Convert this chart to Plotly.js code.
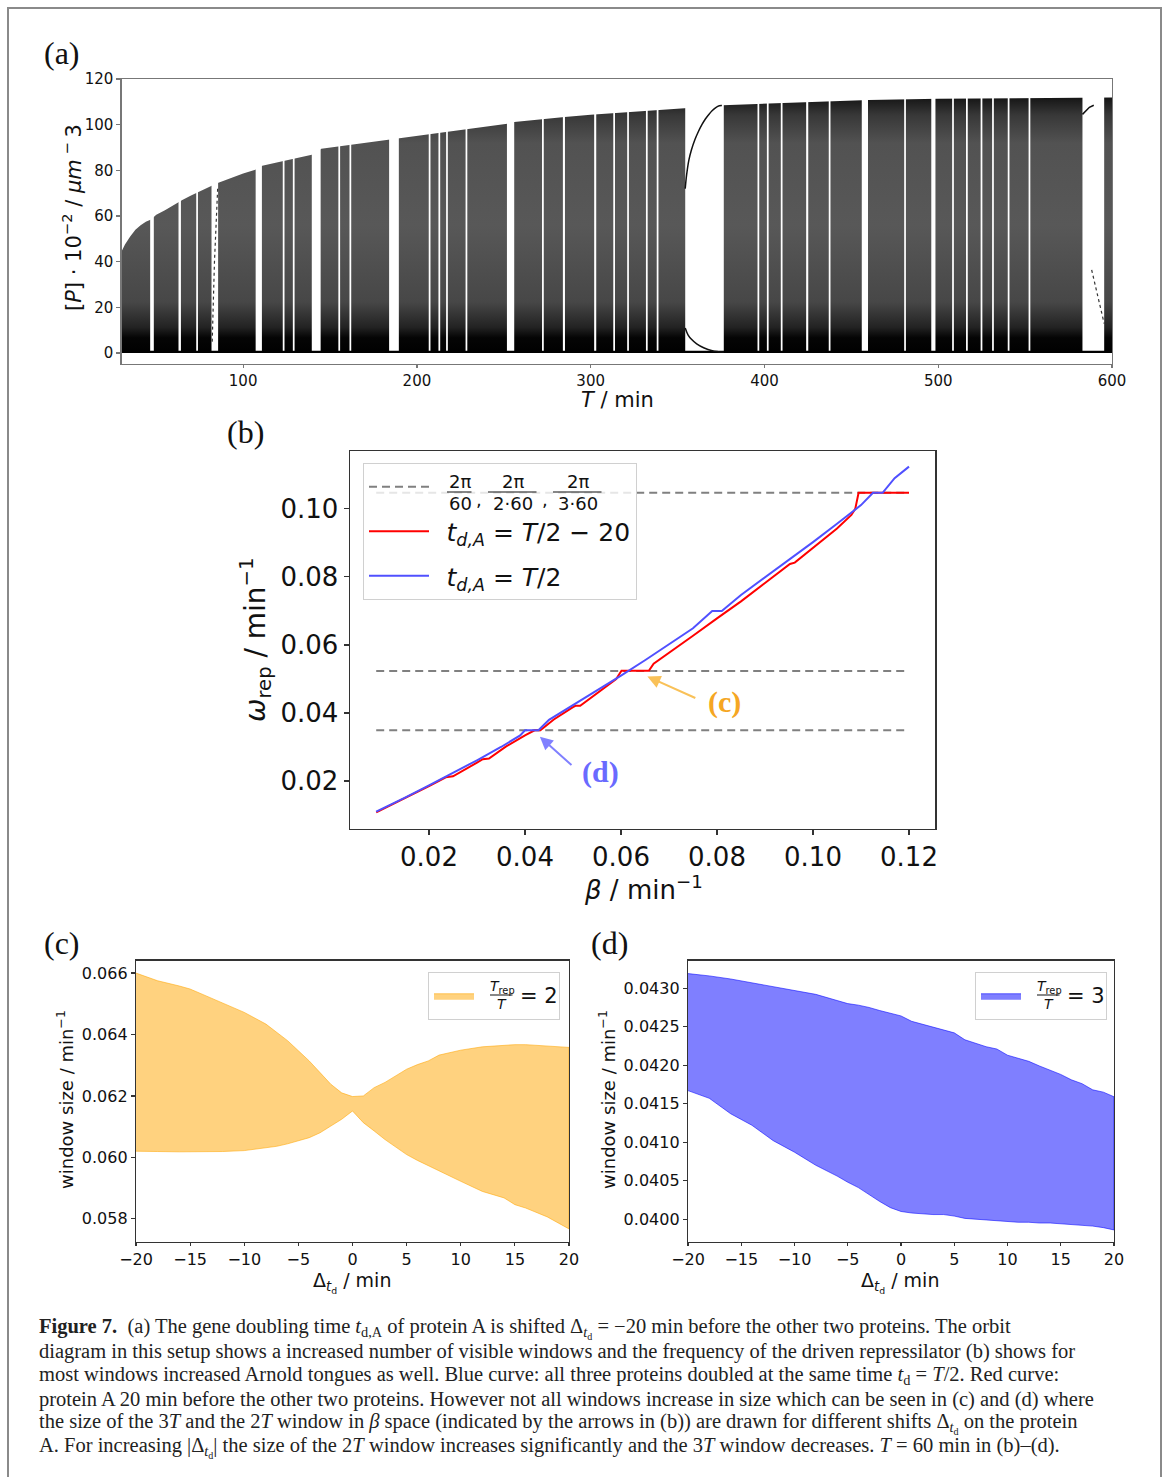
<!DOCTYPE html>
<html><head><meta charset="utf-8">
<script src="https://cdn.plot.ly/plotly-3.0.1.min.js"></script>
<style>html,body{margin:0;padding:0;background:#fff}#chart{width:1167px;height:1477px}</style>
</head><body><div id="chart"></div>
<script>
// ---------- (a) orbit diagram ----------
const orbitT   = [30, 32, 35, 38, 41, 44, 47, 50, 55, 60, 65, 70, 75, 80, 85, 90, 95, 100, 107, 111, 120, 130, 139.5, 145, 155, 165, 175, 184, 190, 200, 215, 230, 245, 252, 256, 270, 285, 300, 320, 340, 354, 376, 400, 430, 456, 460, 500, 540, 583, 595.5, 600];
const orbitTop = [44.5, 47.5, 51, 54, 56, 57.5, 58.5, 60.6, 62.5, 64.8, 67, 69, 70.8, 72.5, 74.3, 75.8, 77.3, 78.6, 80.3, 82, 83.6, 85.2, 86.8, 89.5, 90.5, 91.5, 92.6, 93.5, 94.3, 95.3, 96.8, 98.2, 99.6, 100.4, 101.2, 102.3, 103.4, 104.3, 105.3, 106.3, 107.2, 108.5, 109.1, 109.8, 110.4, 110.8, 111.3, 111.6, 111.9, 111.9, 111.9];
const windowStart = [46.5, 62.8, 73.0, 81.8, 107.2, 122.8, 128.6, 139.5, 154.8, 161.2, 184.0, 206.8, 212.4, 216.8, 228.0, 251.8, 272.0, 284.0, 302.0, 313.0, 321.0, 331.8, 338.0, 354.4, 396.0, 401.4, 409.4, 424.0, 437.0, 456.0, 480.4, 496.0, 508.0, 516.0, 524.4, 531.0, 540.0, 552.0, 583.0];
const windowEnd   = [48.6, 64.2, 74.0, 85.6, 110.8, 123.8, 129.6, 144.6, 155.8, 162.2, 189.6, 207.8, 213.4, 217.8, 229.0, 256.0, 273.0, 285.2, 303.2, 314.0, 322.0, 332.8, 339.0, 376.6, 397.0, 402.4, 410.4, 425.2, 438.0, 459.6, 481.4, 498.4, 509.0, 517.0, 525.4, 532.0, 541.0, 553.0, 595.5];
const branchUpT  = [354.4, 355.2, 356.5, 358, 360, 362, 364, 366, 368, 370, 372, 374, 375.5];
const branchUpP  = [72, 78, 84.5, 89, 93.5, 97, 100, 102.5, 104.5, 106.2, 107.5, 108.3, 108.4];
const branchLowT = [354.4, 356, 358, 361, 365, 370, 376.6];
const branchLowP = [11, 8, 6, 4, 2.3, 1.0, 0.3];
const branchEndTopT = [583, 585, 587, 589.5];
const branchEndTopP = [104.5, 106.3, 107.6, 108.5];
const branchEndDotT = [588.3, 592, 595.5];
const branchEndDotP = [36.4, 24.5, 12.9];
const branch84T = [82.2, 83.5, 85.4];
const branch84P = [5, 40, 73];
const orbitTicks = [100, 200, 300, 400, 500, 600];

// ---------- (b) frequency of the driven repressilator ----------
const betaBlue  = [0.009, 0.012, 0.015, 0.020, 0.025, 0.030, 0.035, 0.039, 0.0400, 0.0428, 0.045, 0.050, 0.055, 0.060, 0.065, 0.070, 0.075, 0.079, 0.081, 0.085, 0.090, 0.095, 0.100, 0.105, 0.110, 0.1125, 0.1145, 0.117, 0.120];
const omegaBlue = [0.0110, 0.0130, 0.0151, 0.0187, 0.0223, 0.0261, 0.0300, 0.0334, 0.0349, 0.0349, 0.0380, 0.0423, 0.0466, 0.0510, 0.0555, 0.0601, 0.0649, 0.0700, 0.0700, 0.0747, 0.0798, 0.0850, 0.0902, 0.0956, 0.1011, 0.1047, 0.1047, 0.1090, 0.1124];
const betaRed  = [0.009, 0.015, 0.020, 0.0235, 0.0250, 0.030, 0.0312, 0.0325, 0.036, 0.040, 0.0420, 0.0432, 0.046, 0.0500, 0.0505, 0.0515, 0.055, 0.0590, 0.0601, 0.0658, 0.0668, 0.070, 0.075, 0.080, 0.085, 0.090, 0.0945, 0.0952, 0.0962, 0.100, 0.105, 0.108, 0.1088, 0.1095, 0.120];
const omegaRed = [0.0108, 0.0149, 0.0185, 0.0211, 0.0214, 0.0254, 0.0264, 0.0266, 0.0301, 0.0334, 0.0349, 0.0349, 0.0381, 0.0417, 0.0421, 0.0421, 0.0459, 0.0500, 0.0524, 0.0524, 0.0545, 0.0578, 0.0627, 0.0678, 0.0728, 0.0782, 0.0832, 0.0838, 0.0842, 0.0885, 0.0942, 0.0982, 0.1000, 0.1047, 0.1047];
const lockedOmega = [0.10472, 0.05236, 0.03491];   // 2π/60, 2π/(2·60), 2π/(3·60)
const lockedBetaSpan = [0.009, 0.120];
const lockedNumer = ['2π', '2π', '2π'];
const lockedDenom = ['60', '2·60', '3·60'];

// ---------- (c) 2T window ----------
const shiftC = [-20, -18, -16, -15, -14, -12, -10, -8, -7, -6, -5, -4, -3, -2, -1, 0, 1, 2, 3, 4, 5, 6, 7, 8, 10, 12, 14, 15, 16, 18, 20];
const upperC = [0.06600, 0.06575, 0.06558, 0.06548, 0.06533, 0.06503, 0.06472, 0.06434, 0.06408, 0.06380, 0.06347, 0.06314, 0.06276, 0.06238, 0.06210, 0.06198, 0.06200, 0.06227, 0.06244, 0.06266, 0.06287, 0.06302, 0.06314, 0.06333, 0.06349, 0.06360, 0.06366, 0.06367, 0.06367, 0.06362, 0.06358];
const lowerC = [0.06020, 0.06019, 0.06018, 0.06018, 0.06018, 0.06019, 0.06022, 0.06031, 0.06036, 0.06044, 0.06053, 0.06064, 0.06080, 0.06102, 0.06124, 0.06151, 0.06113, 0.06086, 0.06058, 0.06033, 0.06009, 0.05990, 0.05971, 0.05955, 0.05922, 0.05889, 0.05868, 0.05846, 0.05835, 0.05806, 0.05767];
const ratioC = 2;

// ---------- (d) 3T window ----------
const shiftD = [-20, -18, -16, -14, -12, -10, -8, -6, -5, -4, -3, -2, -1, 0, 1, 2, 3, 4, 5, 6, 7, 8, 9, 10, 11, 12, 13, 14, 15, 16, 17, 18, 19, 20];
const upperD = [0.04319, 0.04316, 0.04312, 0.04307, 0.04302, 0.04297, 0.04292, 0.04284, 0.04280, 0.04278, 0.04275, 0.04271, 0.04267, 0.04264, 0.04257, 0.04253, 0.04249, 0.04245, 0.04242, 0.04233, 0.04228, 0.04224, 0.04221, 0.04213, 0.04209, 0.04205, 0.04199, 0.04194, 0.04188, 0.04181, 0.04176, 0.04168, 0.04165, 0.04159];
const lowerD = [0.04167, 0.04157, 0.04137, 0.04122, 0.04102, 0.04087, 0.04070, 0.04056, 0.04048, 0.04041, 0.04032, 0.04023, 0.04015, 0.04010, 0.04008, 0.04007, 0.04006, 0.04006, 0.04004, 0.04001, 0.04000, 0.03999, 0.03998, 0.03997, 0.03996, 0.03996, 0.03995, 0.03995, 0.03994, 0.03993, 0.03992, 0.03991, 0.03989, 0.03986];
const ratioD = 3;

const captionLines = [
  "<b>Figure 7.</b>  (a) The gene doubling time <i>t</i><sub>d,A</sub> of protein A is shifted Δ<sub><i>t</i><sub>d</sub></sub> = −20 min before the other two proteins. The orbit",
  "diagram in this setup shows a increased number of visible windows and the frequency of the driven repressilator (b) shows for",
  "most windows increased Arnold tongues as well. Blue curve: all three proteins doubled at the same time <i>t</i><sub>d</sub> = <i>T</i>/2. Red curve:",
  "protein A 20 min before the other two proteins. However not all windows increase in size which can be seen in (c) and (d) where",
  "the size of the 3<i>T</i> and the 2<i>T</i> window in <i>β</i> space (indicated by the arrows in (b)) are drawn for different shifts Δ<sub><i>t</i><sub>d</sub></sub> on the protein",
  "A. For increasing |Δ<sub><i>t</i><sub>d</sub></sub>| the size of the 2<i>T</i> window increases significantly and the 3<i>T</i> window decreases. <i>T</i> = 60 min in (b)–(d)."
];

// ---------- build ----------
const W = 1167, H = 1477;
const px = x => x / W, py = y => 1 - y / H;
const SANS = "DejaVu Sans, sans-serif";
const SERIF = "Liberation Serif, serif";

const winX = [], winY = [];
windowStart.forEach((a, i) => {
  const b = windowEnd[i];
  winX.push(a, a, b, b, a, null);
  winY.push(1.0, 114, 114, 1.0, 1.0, null);
});
const lockX = [], lockY = [];
lockedOmega.forEach(w => { lockX.push(lockedBetaSpan[0], lockedBetaSpan[1], null); lockY.push(w, w, null); });
const EM = '\u2003', EN = '\u2002';

const traces = [
  {x: orbitT, y: orbitTop, xaxis: 'x', yaxis: 'y', mode: 'lines', fill: 'tozeroy', line: {width: 0, color: '#222'},
   fillgradient: {type: 'vertical', start: 0, stop: 112,
     colorscale: [[0, '#000'], [0.06, '#050505'], [0.1, '#222'], [0.2, '#474747'], [0.5, '#585858'], [0.82, '#525252'], [0.93, '#383838'], [1, '#151515']]},
   showlegend: false, hoverinfo: 'skip'},
  {x: winX, y: winY, xaxis: 'x', yaxis: 'y', mode: 'lines', fill: 'toself', fillcolor: '#fff', line: {width: 0, color: '#fff'}, showlegend: false, hoverinfo: 'skip'},
  {x: branchUpT, y: branchUpP, xaxis: 'x', yaxis: 'y', mode: 'lines', line: {color: '#111', width: 1.5, shape: 'spline'}, showlegend: false},
  {x: branchLowT, y: branchLowP, xaxis: 'x', yaxis: 'y', mode: 'lines', line: {color: '#111', width: 1.5, shape: 'spline'}, showlegend: false},
  {x: branchEndTopT, y: branchEndTopP, xaxis: 'x', yaxis: 'y', mode: 'lines', line: {color: '#111', width: 1.5}, showlegend: false},
  {x: branchEndDotT, y: branchEndDotP, xaxis: 'x', yaxis: 'y', mode: 'lines', line: {color: '#333', width: 1.2, dash: 'dot'}, showlegend: false},
  {x: branch84T, y: branch84P, xaxis: 'x', yaxis: 'y', mode: 'lines', line: {color: '#333', width: 1.2, dash: 'dot'}, showlegend: false},

  {x: lockX, y: lockY, xaxis: 'x2', yaxis: 'y2', mode: 'lines', line: {color: '#808080', width: 2, dash: '8px,5px'},
   name: EM.repeat(7), legend: 'legend', legendgroup: 'g1'},
  {x: betaRed, y: omegaRed, xaxis: 'x2', yaxis: 'y2', mode: 'lines', line: {color: '#ff0000', width: 2},
   name: EN + '<i>t</i><sub><i>d,A</i></sub> = <i>T</i>/2 − 20', legend: 'legend', legendgroup: 'g2'},
  {x: betaBlue, y: omegaBlue, xaxis: 'x2', yaxis: 'y2', mode: 'lines', line: {color: '#5050ff', width: 2},
   name: EN + '<i>t</i><sub><i>d,A</i></sub> = <i>T</i>/2', legend: 'legend', legendgroup: 'g3'},

  {x: shiftC.concat(shiftC.slice().reverse()), y: upperC.concat(lowerC.slice().reverse()), xaxis: 'x3', yaxis: 'y3',
   mode: 'lines', fill: 'toself', fillcolor: 'rgba(255,165,0,0.5)', line: {color: 'rgba(255,165,0,0.55)', width: 1},
   name: EM.repeat(3), legend: 'legend2'},
  {x: shiftD.concat(shiftD.slice().reverse()), y: upperD.concat(lowerD.slice().reverse()), xaxis: 'x4', yaxis: 'y4',
   mode: 'lines', fill: 'toself', fillcolor: 'rgba(0,0,255,0.5)', line: {color: 'rgba(0,0,255,0.55)', width: 1},
   name: EM.repeat(3), legend: 'legend3'}
];

const axBase = (c, fs, tl) => ({showline: true, mirror: true, linecolor: c, linewidth: 1.2, ticks: 'outside', ticklen: tl, tickwidth: 1.2,
  tickcolor: c, showgrid: false, zeroline: false, tickfont: {family: SANS, size: fs, color: '#111'}, fixedrange: true});

const layout = {
  width: W, height: H, margin: {l: 0, r: 0, t: 0, b: 0}, paper_bgcolor: '#fff', plot_bgcolor: '#fff', showlegend: true,
  xaxis: Object.assign(axBase('#777', 15, 3), {domain: [px(121.5), px(1112)], range: [30, 600], tickvals: orbitTicks, anchor: 'y'}),
  yaxis: Object.assign(axBase('#777', 15, 4), {domain: [py(364), py(79)], range: [-4.8, 120], tickvals: [0, 20, 40, 60, 80, 100, 120], anchor: 'x'}),
  xaxis2: Object.assign(axBase('#333', 26, 5), {domain: [px(349.8), px(935.4)], range: [0.0035, 0.1255], tickvals: [0.02, 0.04, 0.06, 0.08, 0.10, 0.12], tickformat: '.2f', anchor: 'y2'}),
  yaxis2: Object.assign(axBase('#333', 26, 5), {domain: [py(829), py(451)], range: [0.0059, 0.1170], tickvals: [0.02, 0.04, 0.06, 0.08, 0.10], tickformat: '.2f', anchor: 'x2'}),
  xaxis3: Object.assign(axBase('#333', 16, 3.5), {domain: [px(136), px(569)], range: [-20, 20], tickvals: [-20, -15, -10, -5, 0, 5, 10, 15, 20], anchor: 'y3'}),
  yaxis3: Object.assign(axBase('#333', 16, 4), {domain: [py(1241.5), py(960.5)], range: [0.05726, 0.06641], tickvals: [0.058, 0.060, 0.062, 0.064, 0.066], tickformat: '.3f', anchor: 'x3'}),
  xaxis4: Object.assign(axBase('#333', 16, 3.5), {domain: [px(688), px(1114)], range: [-20, 20], tickvals: [-20, -15, -10, -5, 0, 5, 10, 15, 20], anchor: 'y4'}),
  yaxis4: Object.assign(axBase('#333', 16, 4), {domain: [py(1241.5), py(960.5)], range: [0.03971, 0.04336], tickvals: [0.0400, 0.0405, 0.0410, 0.0415, 0.0420, 0.0425, 0.0430], tickformat: '.4f', anchor: 'x4'}),
  legend: {x: px(363), y: py(463), xanchor: 'left', yanchor: 'top', bgcolor: 'rgba(255,255,255,0.8)', bordercolor: '#d0d0d0', borderwidth: 1,
    font: {family: SANS, size: 25, color: '#111'}, tracegroupgap: 9, itemwidth: 60},
  legend2: {x: px(428), y: py(972), xanchor: 'left', yanchor: 'top', bgcolor: 'rgba(255,255,255,0.8)', bordercolor: '#d0d0d0', borderwidth: 1,
    font: {family: SANS, size: 25, color: '#111'}, itemwidth: 40},
  legend3: {x: px(975), y: py(972), xanchor: 'left', yanchor: 'top', bgcolor: 'rgba(255,255,255,0.8)', bordercolor: '#d0d0d0', borderwidth: 1,
    font: {family: SANS, size: 25, color: '#111'}, itemwidth: 40},
  shapes: [
    {type: 'rect', xref: 'paper', yref: 'paper', x0: px(8), x1: px(1161), y0: -0.02, y1: py(8), line: {color: '#8a8a8a', width: 2}}
  ],
  annotations: []
};

const ann = layout.annotations;
const addText = (x, y, text, size, opts) => ann.push(Object.assign({xref: 'paper', yref: 'paper', x: px(x), y: py(y), text: text, showarrow: false,
  xanchor: 'center', yanchor: 'middle', font: {family: SANS, size: size, color: '#111'}}, opts || {}));
const addBar = (x0, x1, y) => ann.push({xref: 'paper', yref: 'paper', x: px(x0), y: py(y), ax: x1 - x0, ay: 0, text: '',
  showarrow: true, arrowhead: 0, arrowwidth: 1.2, arrowcolor: '#111', standoff: 0, startstandoff: 0});

// fraction labels of the first legend entry in (b)
const fracCx = [460, 513, 578], fracHalf = [13, 25, 25];
lockedNumer.forEach((n, i) => {
  addText(fracCx[i], 481, n, 18);
  addText(fracCx[i], 504, lockedDenom[i], 18);
  addBar(fracCx[i] - fracHalf[i], fracCx[i] + fracHalf[i], 492);
});
addText(479, 499, ',', 18);
addText(545, 499, ',', 18);

// fraction labels of the legends in (c) and (d)
[[502, ratioC], [1049, ratioD]].forEach(([cx, r]) => {
  addText(cx, 987, '<i>T</i><sub>rep</sub>', 14);
  addBar(cx - 12, cx + 12, 995);
  addText(cx, 1004, '<i>T</i>', 14);
  addText(cx + 37, 996, '= ' + r, 21);
});

// panel labels
addText(62, 53, '(a)', 32, {font: {family: SERIF, size: 32, color: '#111'}});
addText(245, 432, '(b)', 32, {font: {family: SERIF, size: 32, color: '#111'}});
addText(62, 943, '(c)', 32, {font: {family: SERIF, size: 32, color: '#111'}});
addText(609, 943, '(d)', 32, {font: {family: SERIF, size: 32, color: '#111'}});

// axis titles
addText(617, 400, '<i>T</i> / min', 21);
addText(72, 218, '[<i>P</i>] · 10<sup>−2</sup> / <i>μm</i><sup> − </sup>3', 21, {textangle: -90});
addText(643, 888, '<i>β</i> / min<sup>−1</sup>', 26);
addText(255, 640, '<i>ω</i><sub>rep</sub> / min<sup>−1</sup>', 28, {textangle: -90});
addText(352, 1282, 'Δ<sub><i>t</i><sub>d</sub></sub> / min', 19);
addText(65, 1100, 'window size / min<sup>−1</sup>', 18, {textangle: -90});
addText(900, 1282, 'Δ<sub><i>t</i><sub>d</sub></sub> / min', 19);
addText(607, 1100, 'window size / min<sup>−1</sup>', 18, {textangle: -90});

// arrows in (b)
ann.push({xref: 'x2', yref: 'y2', axref: 'x2', ayref: 'y2', x: 0.0655, y: 0.0507, ax: 0.0758, ay: 0.0442, text: '', showarrow: true,
  arrowhead: 2, arrowsize: 1.3, arrowwidth: 2, arrowcolor: '#f9c158', standoff: 0});
ann.push({xref: 'x2', yref: 'y2', x: 0.0815, y: 0.0431, text: '<b>(c)</b>', showarrow: false, font: {family: SERIF, size: 30, color: '#f5a623'}});
ann.push({xref: 'x2', yref: 'y2', axref: 'x2', ayref: 'y2', x: 0.0431, y: 0.0330, ax: 0.0500, ay: 0.0243, text: '', showarrow: true,
  arrowhead: 2, arrowsize: 1.3, arrowwidth: 2, arrowcolor: '#8080ff', standoff: 0});
ann.push({xref: 'x2', yref: 'y2', x: 0.0558, y: 0.0226, text: '<b>(d)</b>', showarrow: false, font: {family: SERIF, size: 30, color: '#6a6aff'}});

// caption
const capY = [1328, 1351, 1375, 1399, 1423, 1447];
captionLines.forEach((t, i) => addText(37, capY[i], t, 20.5, {xanchor: 'left', font: {family: SERIF, size: 20.5, color: '#222'}}));

Plotly.newPlot('chart', traces, layout, {displayModeBar: false, staticPlot: true});
</script></body></html>
